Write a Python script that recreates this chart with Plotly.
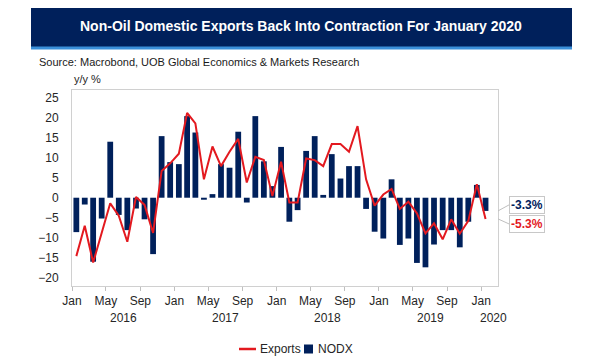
import plotly.graph_objects as go
import pandas as pd

# ---------------- data ----------------
months = pd.date_range("2016-01-01", periods=49, freq="MS")

nodx = [
    -8.6, -1.7, -16.0, -5.2, 14.0, -4.3, -8.1, -2.7, -5.4, -14.1, 15.4, 8.9,     # 2016
    8.4, 20.4, 16.3, -0.5, 0.9, 8.4, 7.5, 16.5, -1.2, 20.4, 9.1, 2.9,            # 2017
    12.7, -6.0, -3.1, 11.7, 15.4, 0.7, 10.9, 4.8, 7.9, 7.9, -2.8, -8.5,          # 2018
    -10.2, 4.6, -11.8, -10.2, -16.3, -17.4, -11.7, -8.1, -8.1, -12.4, -6.0, 3.2, # 2019
    -3.3,                                                                        # 2020
]

exports = [
    -14.6, -7.0, -16.2, -8.8, -1.4, -4.5, -11.0, 0.2, -1.8, -8.8, 6.7, 8.6,      # 2016
    11.0, 21.2, 18.6, 4.6, 12.8, 7.9, 11.5, 14.7, 3.8, 10.2, 9.4, 0.4,           # 2017
    9.0, -1.2, -1.2, 9.8, 9.4, 7.9, 13.4, 13.4, 11.5, 17.9, 4.6, -2.0,           # 2018
    0.8, 2.2, -2.8, -1.0, -3.9, -8.9, -6.4, -10.4, -5.4, -9.0, -5.8, 3.4,        # 2019
    -5.3,                                                                        # 2020
]

series_names = ["Exports", "NODX"]
tick_months = ["Jan", "May", "Sep"]
tick_month_nums = [1, 5, 9]
years = [2016, 2017, 2018, 2019, 2020]
y_ticks = [-20, -15, -10, -5, 0, 5, 10, 15, 20, 25]

title_text = "Non-Oil Domestic Exports Back Into Contraction For January 2020"
source_text = "Source: Macrobond, UOB Global Economics & Markets Research"

# ---------------- style ----------------
NAVY = "#00205b"
RED = "#e3191f"
GRID = "#d0d0d0"
TXT = "#262626"
FONT = "Liberation Sans, Arial, sans-serif"

x_start = "2016-01-01"
x_end = "2020-03-01"

# page body has an 8px margin: figure drawn 8px in from the window corner
OFF = 8
W, H = 600 - OFF, 360 - OFF
L, T = 72 - OFF, 90 - OFF
pw, ph = 426, 196
R = W - L - pw
B = H - T - ph


def px(x_win):
    return (x_win - OFF - L) / pw


def py(y_win):
    return (H - B - (y_win - OFF)) / ph


# ticks
tick_vals, tick_text = [], []
for y in years:
    for m, lab in zip(tick_month_nums, tick_months):
        d = pd.Timestamp(year=y, month=m, day=1)
        if d <= months[-1]:
            tick_vals.append(d)
            tick_text.append(lab)

fig = go.Figure()
fig.add_trace(go.Scatter(
    x=months, y=exports, name=series_names[0], mode="lines",
    line=dict(color=RED, width=2),
    xperiod="M1", xperiodalignment="middle", showlegend=False,
))
fig.add_trace(go.Bar(
    x=months, y=nodx, name=series_names[1],
    marker=dict(color=NAVY, line_width=0),
    xperiod="M1", xperiodalignment="middle", showlegend=False,
))

fig.update_layout(
    width=W, height=H,
    margin=dict(l=L, r=R, t=T, b=B, autoexpand=False),
    paper_bgcolor="white", plot_bgcolor="white",
    font=dict(family=FONT, size=12, color=TXT),
    bargap=0.3,
    showlegend=False,
    xaxis=dict(
        type="date", range=[x_start, x_end],
        tickmode="array", tickvals=tick_vals, ticktext=tick_text,
        ticks="outside", ticklen=4, tickcolor="#bfbfbf",
        showline=True, linecolor=GRID, mirror=True,
        showgrid=False, zeroline=False,
        tickfont=dict(size=12, color=TXT),
    ),
    yaxis=dict(
        range=[-22.07, 26.93],
        tickmode="array", tickvals=y_ticks,
        ticks="", showline=True, linecolor=GRID, mirror=True,
        showgrid=False, zeroline=False,
        ticklabelstandoff=10,
        tickfont=dict(size=12, color=TXT),
    ),
)

shapes = [
    # title banner
    dict(type="rect", xref="paper", yref="paper",
         x0=px(31), x1=px(572), y0=py(48), y1=py(5),
         fillcolor=NAVY, line_width=0, layer="above"),
    dict(type="rect", xref="paper", yref="paper",
         x0=px(31), x1=px(572), y0=py(49.5), y1=py(46.5),
         fillcolor="#3a8fd9", line_width=0, layer="above"),
    # legend symbols
    dict(type="line", xref="paper", yref="paper",
         x0=px(239), x1=px(256), y0=py(349), y1=py(349),
         line=dict(color=RED, width=2.5), layer="above"),
    dict(type="rect", xref="paper", yref="paper",
         x0=px(304), x1=px(313), y0=py(353.5), y1=py(344.5),
         fillcolor=NAVY, line_width=0, layer="above"),
]
fig.update_layout(shapes=shapes)

ann = [
    dict(text="<b>" + title_text + "</b>", xref="paper", yref="paper",
         x=px(301), y=py(26), xanchor="center", yanchor="middle",
         showarrow=False, font=dict(size=14, color="white", family=FONT)),
    dict(text=source_text, xref="paper", yref="paper",
         x=px(37), y=py(62), xanchor="left", yanchor="middle",
         showarrow=False, font=dict(size=11, color="#1a1a1a", family=FONT)),
    dict(text="y/y %", xref="paper", yref="paper",
         x=0, y=py(79), xanchor="left", yanchor="middle",
         showarrow=False, font=dict(size=11, color=TXT, family=FONT)),
    # legend texts
    dict(text=series_names[0], xref="paper", yref="paper",
         x=px(258), y=py(349), xanchor="left", yanchor="middle",
         showarrow=False, font=dict(size=12, color=TXT, family=FONT)),
    dict(text=series_names[1], xref="paper", yref="paper",
         x=px(315.5), y=py(349), xanchor="left", yanchor="middle",
         showarrow=False, font=dict(size=12, color=TXT, family=FONT)),
]

# year labels centred under each year's span
end_ts = pd.Timestamp(x_end)
for y in years:
    s = pd.Timestamp(year=y, month=1, day=1)
    e = min(pd.Timestamp(year=y + 1, month=1, day=1), end_ts)
    mid = s + (e - s) / 2
    if y == years[-1]:
        mid = s + (e - s) * 0.75
    ann.append(dict(text=str(y), xref="x", yref="paper", x=mid, y=py(318),
                    xanchor="center", yanchor="middle", showarrow=False,
                    font=dict(size=12, color=TXT)))

# callouts for last values
ann.append(dict(
    text="<b>%.1f%%</b>" % nodx[-1], xref="paper", yref="y", x=1, y=nodx[-1],
    showarrow=True, arrowhead=0, arrowwidth=1, arrowcolor="#bfbfbf",
    ax=11, ay=-6, xanchor="left", yanchor="middle",
    bgcolor="white", bordercolor="#c8c8c8", borderwidth=1, borderpad=1,
    font=dict(size=12, color=NAVY, family=FONT)))
ann.append(dict(
    text="<b>%.1f%%</b>" % exports[-1], xref="paper", yref="y", x=1, y=exports[-1],
    showarrow=True, arrowhead=0, arrowwidth=1, arrowcolor="#bfbfbf",
    ax=11, ay=5, xanchor="left", yanchor="middle",
    bgcolor="white", bordercolor="#c8c8c8", borderwidth=1, borderpad=1,
    font=dict(size=12, color=RED, family=FONT)))

fig.update_layout(annotations=ann)

fig.write_html("out.html")
